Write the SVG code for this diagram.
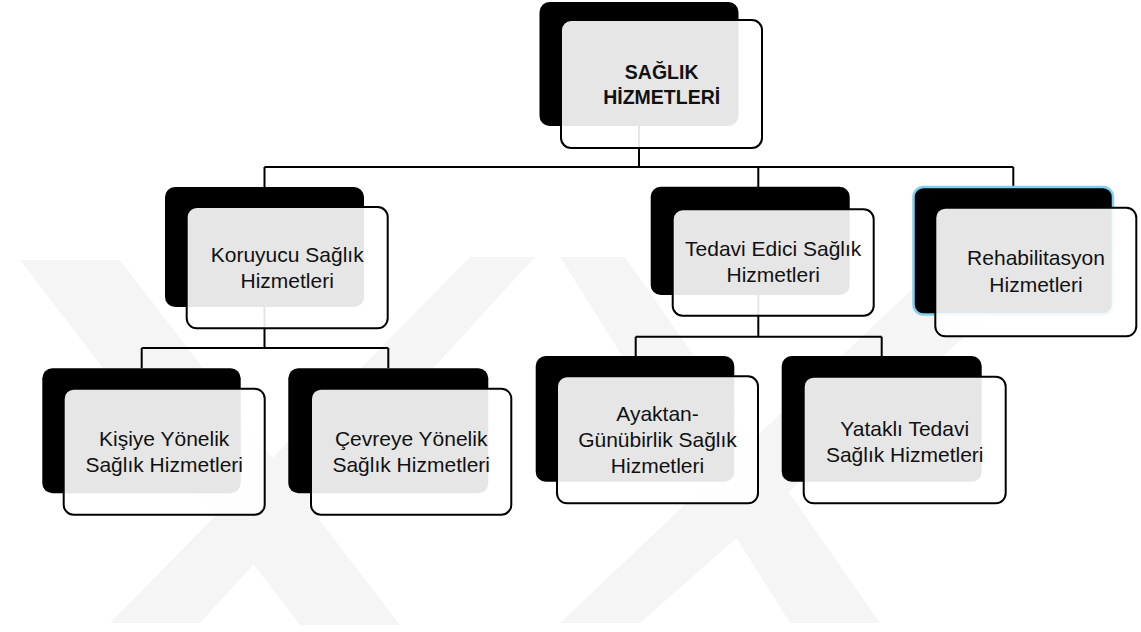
<svg xmlns="http://www.w3.org/2000/svg" width="1141" height="632" viewBox="0 0 1141 632">
<style>
.wm{fill:#f5f5f5}
.back{fill:#000}
.front{fill:#fff;fill-opacity:0.9;stroke:#000;stroke-width:2}
.conn{fill:none;stroke:#000;stroke-width:2}
.t{font-family:"Liberation Sans",Arial,sans-serif;font-size:21px;fill:#111;text-anchor:middle}
.tb{font-family:"Liberation Sans",Arial,sans-serif;font-size:19.5px;font-weight:bold;fill:#111;text-anchor:middle}
</style>
<rect width="1141" height="632" fill="#fff"/>
<g id="watermark">
<polygon class="wm" points="20,260 120,260 400,625 300,625"/>
<polygon class="wm" points="470,257 535,257 200,623 110,623"/>
<polygon class="wm" points="560,257 625,257 880,623 790,623"/>
<polygon class="wm" points="946,257 1055,257 640,623 560,623"/>
</g>
<g id="connectors">
<path class="conn" d="M639,126 V167 M264.5,167 H1013.3 M264.5,167 V187 M758.3,167 V187 M1013.3,167 V187"/>
<path class="conn" d="M264.5,307 V348 M141.7,348 H388.3 M141.7,348 V368 M388.3,348 V368"/>
<path class="conn" d="M758.3,295 V336.7 M635.7,336.7 H881.7 M635.7,336.7 V356 M881.7,336.7 V356"/>
</g>
<g id="node-saglik">
<rect class="back" x="539.5" y="2" width="199" height="124" rx="10"/>
<rect class="front" x="561" y="20" width="201" height="128" rx="10"/>
<text class="tb" x="661.7" y="79">SAĞLIK</text>
<text class="tb" x="661.7" y="104.3">HİZMETLERİ</text>
</g>
<g id="node-koruyucu">
<rect class="back" x="165" y="187" width="199" height="120" rx="10"/>
<rect class="front" x="186.7" y="207" width="201" height="121.3" rx="10"/>
<text class="t" x="287.2" y="261.7">Koruyucu Sağlık</text>
<text class="t" x="287.2" y="288.3">Hizmetleri</text>
</g>
<g id="node-tedavi">
<rect class="back" x="650.7" y="186.7" width="199" height="108.3" rx="10"/>
<rect class="front" x="672.7" y="209.3" width="201" height="106.4" rx="10"/>
<text class="t" x="773.2" y="256">Tedavi Edici Sağlık</text>
<text class="t" x="773.2" y="281.7">Hizmetleri</text>
</g>
<g id="node-rehabilitasyon">
<rect class="back" x="913.5" y="187" width="199.5" height="127.5" rx="10" stroke="#7fd0f0" stroke-width="2.5"/>
<rect class="front" x="935.3" y="207.7" width="201" height="128.6" rx="10"/>
<text class="t" x="1036" y="265">Rehabilitasyon</text>
<text class="t" x="1036" y="291.7">Hizmetleri</text>
</g>
<g id="node-kisiye">
<rect class="back" x="42.3" y="368.3" width="198.4" height="125" rx="10"/>
<rect class="front" x="63.7" y="388.7" width="201" height="126" rx="10"/>
<text class="t" x="164.2" y="446">Kişiye Yönelik</text>
<text class="t" x="164.2" y="471.7">Sağlık Hizmetleri</text>
</g>
<g id="node-cevreye">
<rect class="back" x="288.3" y="368.3" width="200" height="125" rx="10"/>
<rect class="front" x="311" y="388.7" width="200.3" height="126" rx="10"/>
<text class="t" x="411.2" y="446">Çevreye Yönelik</text>
<text class="t" x="411.2" y="471.7">Sağlık Hizmetleri</text>
</g>
<g id="node-ayaktan">
<rect class="back" x="535.7" y="356" width="198.6" height="125.7" rx="10"/>
<rect class="front" x="557" y="376.3" width="201" height="127" rx="10"/>
<text class="t" x="657.5" y="421">Ayaktan-</text>
<text class="t" x="657.5" y="446.7">Günübirlik Sağlık</text>
<text class="t" x="657.5" y="472.7">Hizmetleri</text>
</g>
<g id="node-yatakli">
<rect class="back" x="781.7" y="356" width="200" height="125.7" rx="10"/>
<rect class="front" x="803.7" y="376.7" width="202" height="126.6" rx="10"/>
<text class="t" x="904.7" y="436">Yataklı Tedavi</text>
<text class="t" x="904.7" y="462.3">Sağlık Hizmetleri</text>
</g>
</svg>
